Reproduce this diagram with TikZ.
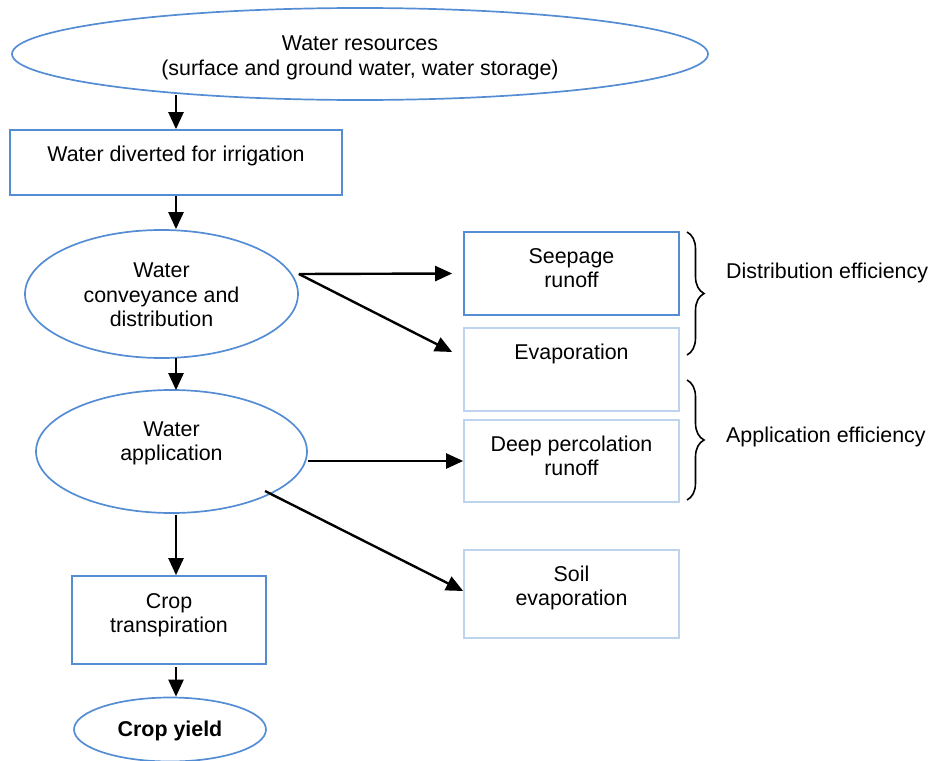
\documentclass[tikz,border=0pt]{standalone}
\usepackage{fontspec}
\setmainfont{Liberation Sans}
\usetikzlibrary{shapes.geometric,arrows.meta,decorations.pathreplacing}
\definecolor{bdark}{RGB}{84,141,212}
\definecolor{blight}{RGB}{190,212,238}
\begin{document}
\begin{tikzpicture}[x=1pt,y=-1pt,
  every node/.style={font=\fontsize{21.4}{24.5}\selectfont},
  oval/.style={draw=bdark,line width=1.7pt,ellipse,inner sep=0pt},
  dbox/.style={draw=bdark,line width=1.7pt,rectangle,inner sep=0pt},
  lbox/.style={draw=blight,line width=1.7pt,rectangle,inner sep=0pt},
  txt/.style={align=center,inner sep=0pt},
  arr/.style={line width=2.4pt,-{Triangle[length=17pt,width=15pt]}},
  brc/.style={decorate,decoration={brace,amplitude=17pt},line width=1.6pt}]
\useasboundingbox (0,0) rectangle (931,760);

% left column
\node[oval,minimum width=696pt,minimum height=92pt] (res) at (360,54) {};
\node[txt] (restxt) at (360,58) {Water resources\\(surface and ground water, water storage)};
\node[dbox,minimum width=332pt,minimum height=65pt] (div) at (176,162.5) {};
\node[txt] (divtxt) at (176,156) {Water diverted for irrigation};
\node[oval,minimum width=273pt,minimum height=128pt] (conv) at (161.5,294) {};
\node[txt] (convtxt) at (161.5,295) {Water\\conveyance and\\distribution};
\node[oval,minimum width=271pt,minimum height=123pt] (app) at (171.5,451.5) {};
\node[txt] (apptxt) at (171.5,443.5) {Water\\application};
\node[dbox,minimum width=194pt,minimum height=88pt] (crop) at (169,620) {};
\node[txt] (croptxt) at (169,615) {Crop\\transpiration};
\node[oval,minimum width=192pt,minimum height=64pt] (yield) at (170,729.5) {};
\node[txt] (yieldtxt) at (170,730.5) {\bfseries Crop yield};

% right column
\node[dbox,minimum width=215pt,minimum height=83pt] (seep) at (571.5,273.5) {};
\node[txt] (seeptxt) at (571.5,268) {Seepage\\runoff};
\node[lbox,minimum width=215pt,minimum height=83pt] (evap) at (571.5,369.5) {};
\node[txt] (evaptxt) at (571.5,354) {Evaporation};
\node[lbox,minimum width=215pt,minimum height=82pt] (deep) at (571.5,461) {};
\node[txt] (deeptxt) at (571.5,456) {Deep percolation\\runoff};
\node[lbox,minimum width=215pt,minimum height=88pt] (soil) at (571.5,594) {};
\node[txt] (soiltxt) at (571.5,588) {Soil\\evaporation};

% vertical arrows
\draw[arr] ([yshift=6pt]res.south -| div.north) -- (div.north);
\draw[arr] (div.south) -- (div.south |- conv.north);
\draw[arr] ([yshift=1pt]conv.south -| div.south) -- ([yshift=-1pt]app.north -| div.south);
\draw[arr] ([yshift=-1pt]app.south -| div.south) -- (crop.north -| div.south);
\draw[arr] ([yshift=-2pt]crop.south -| div.south) -- (yield.north -| div.south);

% side arrows
\draw[arr] ([yshift=20pt]conv.east) -- ([xshift=-11pt]seep.west);
\draw[arr] ([yshift=20pt]conv.east) -- ([shift={(-11pt,17.5pt)}]evap.west);
\draw[arr] ([yshift=-9.5pt]app.east) -- (deep.west);
\draw[arr] ([shift={(93.5pt,-39.5pt)}]app.center) -- ([yshift=3pt]soil.west);

% braces
\coordinate (b1t) at (687,232);
\coordinate (b1b) at (687,355);
\coordinate (b2t) at (687,380);
\coordinate (b2b) at (687,500);
\draw[brc] (b1t) -- (b1b);
\draw[brc] (b2t) -- (b2b);
\node[anchor=west,inner sep=0pt] (deff) at (726,273) {Distribution efficiency};
\node[anchor=west,inner sep=0pt] (aeff) at (726,437) {Application efficiency};
\end{tikzpicture}
\end{document}
